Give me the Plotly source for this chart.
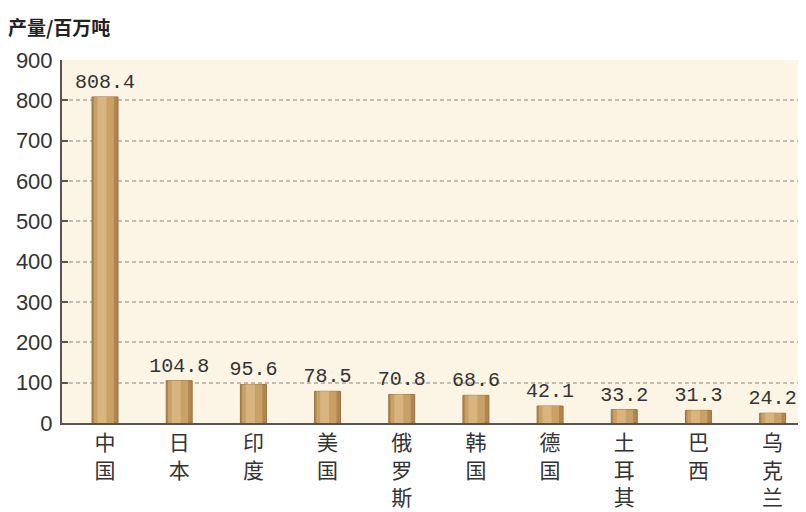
import plotly.graph_objects as go

countries = ["中国", "日本", "印度", "美国", "俄罗斯", "韩国", "德国", "土耳其", "巴西", "乌克兰"]
output_mt = [808.4, 104.8, 95.6, 78.5, 70.8, 68.6, 42.1, 33.2, 31.3, 24.2]
y_ticks = [0, 100, 200, 300, 400, 500, 600, 700, 800, 900]
y_title = "产量/百万吨"

labels = ["<br>".join(list(c)) for c in countries]

fig = go.Figure()
# base bar (dark edges)
fig.add_trace(go.Bar(
    x=labels, y=output_mt, width=0.35,
    marker=dict(color="#B08650", line=dict(color="#9A7240", width=1)),
    texttemplate="%{y:.1f}", textposition="outside", constraintext="none",
    cliponaxis=False,
    textfont=dict(family="Liberation Mono", size=20, color="#333333"),
    hoverinfo="skip", showlegend=False,
))
# mid layer
fig.add_trace(go.Bar(
    x=labels, y=output_mt, width=0.27, offset=-0.15,
    marker=dict(color="#C9A166", line=dict(width=0)),
    hoverinfo="skip", showlegend=False,
))
# highlight layer
fig.add_trace(go.Bar(
    x=labels, y=output_mt, width=0.12, offset=-0.1,
    marker=dict(color="#D8B47E", line=dict(width=0)),
    hoverinfo="skip", showlegend=False,
))

fig.update_layout(
    width=806, height=512,
    margin=dict(l=54, r=8, t=52, b=97),
    barmode="overlay",
    paper_bgcolor="white",
    plot_bgcolor="#FCF4E5",
    font=dict(family="Liberation Sans", color="#333333"),
    annotations=[dict(
        text="<b>" + y_title + "</b>", xref="paper", yref="paper",
        x=-0.0753, y=1.05, xanchor="left", yanchor="bottom", showarrow=False,
        font=dict(family="Noto Sans CJK SC", size=19, color="#222222"),
    )],
)
fig.update_xaxes(
    range=[-0.58, 9.45], showgrid=False, automargin=False,
    showline=True, linecolor="#555555", linewidth=2,
    ticks="", tickfont=dict(family="Noto Sans CJK SC", size=21, color="#333333"),
    tickangle=0,
)
fig.update_yaxes(
    range=[0, 900], tickvals=y_ticks, ticktext=[str(v) for v in y_ticks],
    automargin=False,
    showline=True, linecolor="#555555", linewidth=2,
    ticks="inside", ticklen=6, tickcolor="#555555", tickwidth=1.5,
    showgrid=True, gridcolor="#C2BCB2", gridwidth=1.5, griddash="4px,3px",
    zeroline=False,
    tickfont=dict(family="Liberation Sans", size=22, color="#333333"),
    ticklabelstandoff=3,
)

fig.write_html("out.html")
